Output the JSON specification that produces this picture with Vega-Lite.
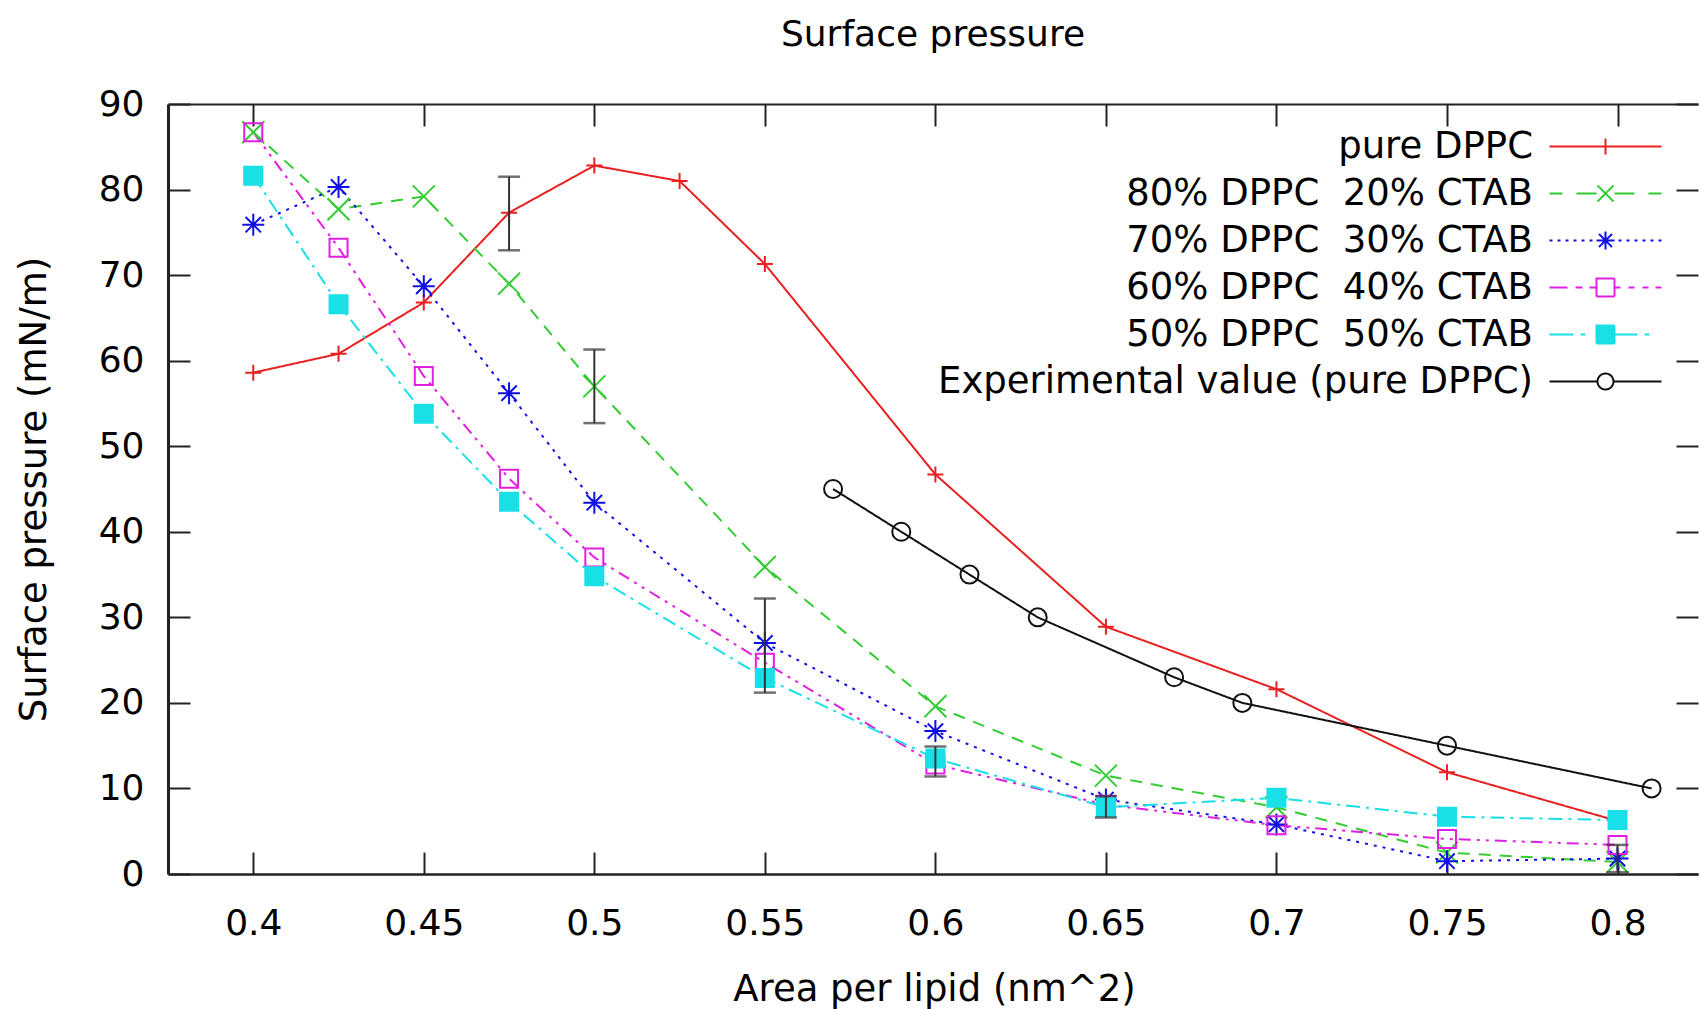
{
  "$schema": "https://vega.github.io/schema/vega-lite/v6.json",
  "width": 1530,
  "height": 770,
  "autosize": {"type": "none"},
  "padding": {"left": 168, "top": 104, "right": 1, "bottom": 135},
  "background": "white",
  "config": {
    "view": {"stroke": null},
    "font": "DejaVu Sans",
    "axis": {"grid": false, "labelFont": "DejaVu Sans", "titleFont": "DejaVu Sans", "labelColor": "black", "titleColor": "black", "domainColor": "#222", "tickColor": "#222", "labelFlush": false, "labelOverlap": false}
  },
  "title": {"text": "Surface pressure", "fontSize": 36, "fontWeight": "normal", "font": "DejaVu Sans", "color": "black", "anchor": "middle", "frame": "group", "baseline": "alphabetic", "offset": 4},
  "datasets": {
    "series": [
      {"s": "pure DPPC", "x": 0.4, "y": 58.6},
      {"s": "pure DPPC", "x": 0.425, "y": 60.8},
      {"s": "pure DPPC", "x": 0.45, "y": 66.8},
      {"s": "pure DPPC", "x": 0.475, "y": 77.3},
      {"s": "pure DPPC", "x": 0.5, "y": 82.8},
      {"s": "pure DPPC", "x": 0.525, "y": 81.0},
      {"s": "pure DPPC", "x": 0.55, "y": 71.3},
      {"s": "pure DPPC", "x": 0.6, "y": 46.7},
      {"s": "pure DPPC", "x": 0.65, "y": 28.9},
      {"s": "pure DPPC", "x": 0.7, "y": 21.6},
      {"s": "pure DPPC", "x": 0.75, "y": 11.9},
      {"s": "pure DPPC", "x": 0.8, "y": 6.2},
      {"s": "80% DPPC\u00a0 20% CTAB", "x": 0.4, "y": 86.7},
      {"s": "80% DPPC\u00a0 20% CTAB", "x": 0.425, "y": 77.7},
      {"s": "80% DPPC\u00a0 20% CTAB", "x": 0.45, "y": 79.2},
      {"s": "80% DPPC\u00a0 20% CTAB", "x": 0.475, "y": 69.0},
      {"s": "80% DPPC\u00a0 20% CTAB", "x": 0.5, "y": 57.0},
      {"s": "80% DPPC\u00a0 20% CTAB", "x": 0.55, "y": 35.9},
      {"s": "80% DPPC\u00a0 20% CTAB", "x": 0.6, "y": 19.6},
      {"s": "80% DPPC\u00a0 20% CTAB", "x": 0.65, "y": 11.5},
      {"s": "80% DPPC\u00a0 20% CTAB", "x": 0.7, "y": 7.8},
      {"s": "80% DPPC\u00a0 20% CTAB", "x": 0.75, "y": 2.5},
      {"s": "80% DPPC\u00a0 20% CTAB", "x": 0.8, "y": 1.4},
      {"s": "70% DPPC\u00a0 30% CTAB", "x": 0.4, "y": 75.9},
      {"s": "70% DPPC\u00a0 30% CTAB", "x": 0.425, "y": 80.3},
      {"s": "70% DPPC\u00a0 30% CTAB", "x": 0.45, "y": 68.7},
      {"s": "70% DPPC\u00a0 30% CTAB", "x": 0.475, "y": 56.2},
      {"s": "70% DPPC\u00a0 30% CTAB", "x": 0.5, "y": 43.4},
      {"s": "70% DPPC\u00a0 30% CTAB", "x": 0.55, "y": 27.0},
      {"s": "70% DPPC\u00a0 30% CTAB", "x": 0.6, "y": 16.7},
      {"s": "70% DPPC\u00a0 30% CTAB", "x": 0.65, "y": 8.7},
      {"s": "70% DPPC\u00a0 30% CTAB", "x": 0.7, "y": 5.8},
      {"s": "70% DPPC\u00a0 30% CTAB", "x": 0.75, "y": 1.5},
      {"s": "70% DPPC\u00a0 30% CTAB", "x": 0.8, "y": 1.8},
      {"s": "60% DPPC\u00a0 40% CTAB", "x": 0.4, "y": 86.7},
      {"s": "60% DPPC\u00a0 40% CTAB", "x": 0.425, "y": 73.2},
      {"s": "60% DPPC\u00a0 40% CTAB", "x": 0.45, "y": 58.2},
      {"s": "60% DPPC\u00a0 40% CTAB", "x": 0.475, "y": 46.2},
      {"s": "60% DPPC\u00a0 40% CTAB", "x": 0.5, "y": 37.0},
      {"s": "60% DPPC\u00a0 40% CTAB", "x": 0.55, "y": 24.7},
      {"s": "60% DPPC\u00a0 40% CTAB", "x": 0.6, "y": 12.8},
      {"s": "60% DPPC\u00a0 40% CTAB", "x": 0.65, "y": 8.1},
      {"s": "60% DPPC\u00a0 40% CTAB", "x": 0.7, "y": 5.7},
      {"s": "60% DPPC\u00a0 40% CTAB", "x": 0.75, "y": 4.1},
      {"s": "60% DPPC\u00a0 40% CTAB", "x": 0.8, "y": 3.4},
      {"s": "50% DPPC\u00a0 50% CTAB", "x": 0.4, "y": 81.6},
      {"s": "50% DPPC\u00a0 50% CTAB", "x": 0.425, "y": 66.6},
      {"s": "50% DPPC\u00a0 50% CTAB", "x": 0.45, "y": 53.8},
      {"s": "50% DPPC\u00a0 50% CTAB", "x": 0.475, "y": 43.5},
      {"s": "50% DPPC\u00a0 50% CTAB", "x": 0.5, "y": 34.8},
      {"s": "50% DPPC\u00a0 50% CTAB", "x": 0.55, "y": 22.9},
      {"s": "50% DPPC\u00a0 50% CTAB", "x": 0.6, "y": 13.5},
      {"s": "50% DPPC\u00a0 50% CTAB", "x": 0.65, "y": 7.8},
      {"s": "50% DPPC\u00a0 50% CTAB", "x": 0.7, "y": 8.9},
      {"s": "50% DPPC\u00a0 50% CTAB", "x": 0.75, "y": 6.7},
      {"s": "50% DPPC\u00a0 50% CTAB", "x": 0.8, "y": 6.3},
      {"s": "Experimental value (pure DPPC)", "x": 0.57, "y": 45},
      {"s": "Experimental value (pure DPPC)", "x": 0.59, "y": 40},
      {"s": "Experimental value (pure DPPC)", "x": 0.61, "y": 35},
      {"s": "Experimental value (pure DPPC)", "x": 0.63, "y": 30},
      {"s": "Experimental value (pure DPPC)", "x": 0.67, "y": 23},
      {"s": "Experimental value (pure DPPC)", "x": 0.69, "y": 20},
      {"s": "Experimental value (pure DPPC)", "x": 0.75, "y": 15},
      {"s": "Experimental value (pure DPPC)", "x": 0.81, "y": 10}
    ],
    "err": [
      {"x": 0.475, "lo": 72.9, "hi": 81.5},
      {"x": 0.5, "lo": 52.7, "hi": 61.3},
      {"x": 0.55, "lo": 21.2, "hi": 32.2},
      {"x": 0.6, "lo": 11.4, "hi": 14.9},
      {"x": 0.65, "lo": 6.6, "hi": 9.1},
      {"x": 0.8, "lo": 0.2, "hi": 3.4}
    ]
  },
  "layer": [
    {
      "data": {"name": "series"},
      "transform": [{"calculate": "datum.s", "as": "k"}],
      "mark": {"type": "line", "strokeWidth": 2},
      "encoding": {
        "x": {"field": "x", "type": "quantitative", "scale": {"domain": [0.375, 0.8236], "nice": false, "zero": false},
          "axis": {"orient": "bottom", "values": [0.4, 0.45, 0.5, 0.55, 0.6, 0.65, 0.7, 0.75, 0.8], "format": "~g", "tickSize": -22, "tickWidth": 2, "domainWidth": 2.5, "labelFontSize": 36, "labelBaseline": "alphabetic", "labelPadding": 82, "title": "Area per lipid (nm^2)", "titleFontSize": 37, "titleFontWeight": "normal", "titleX": 766, "titleY": 126, "titleBaseline": "alphabetic", "titleAlign": "center", "titleAnchor": null}},
        "y": {"field": "y", "type": "quantitative", "scale": {"domain": [0, 90], "nice": false},
          "axis": {"orient": "left", "values": [0, 10, 20, 30, 40, 50, 60, 70, 80, 90], "tickSize": -22, "tickWidth": 2, "domainWidth": 3, "labelFontSize": 36, "labelPadding": 46, "title": "Surface pressure (mN/m)", "titleFontSize": 37, "titleFontWeight": "normal", "titleX": -123, "titleY": 385, "titleAngle": -90, "titleBaseline": "alphabetic", "titleAlign": "center", "titleAnchor": null}},
        "color": {"field": "s", "type": "nominal", "sort": null,
          "scale": {"domain": ["pure DPPC", "80% DPPC\u00a0 20% CTAB", "70% DPPC\u00a0 30% CTAB", "60% DPPC\u00a0 40% CTAB", "50% DPPC\u00a0 50% CTAB", "Experimental value (pure DPPC)"], "range": ["#e82020", "#33cc33", "#1010e6", "#e020e0", "#18e0e6", "#111111"]},
          "legend": {
            "orient": "none", "legendX": 1419, "legendY": 24, "title": null, "padding": 0,
            "symbolSize": 100, "symbolStrokeWidth": 2, "labelFontSize": 37, "labelFont": "DejaVu Sans", "labelColor": "black",
            "labelAlign": "right", "labelOffset": -91, "labelLimit": 1000, "rowPadding": 9,
            "encode": {
              "symbols": {"update": {
              "shape": {"signal": "['M-11.2,0H11.2M0,-1.6V1.6', 'M-11.2,0H-8.6M-5.8,0H-1.8M1.8,0H5.8M8.6,0H11.2M-1.6,-1.6L1.6,1.6M-1.6,1.6L1.6,-1.6', 'M-11.2,0H-10.6M-9.6,0H-9M-8,0H-7.4M-6.4,0H-5.8M-4.8,0H-4.2M-3.2,0H-2.6M2.6,0H3.2M4.2,0H4.8M5.8,0H6.4M7.4,0H8M9,0H9.6M10.6,0H11.2M-1.8,0H1.8M0,-1.8V1.8M-1.3,-1.3L1.3,1.3M-1.3,1.3L1.3,-1.3', 'M-11.2,0H-7.6M-6,0H-4.6M-3.2,0H-1.8M-1.8,-1.8H1.8V1.8H-1.8ZM1.8,0H3M4.6,0H5.8M7.4,0H8.6M10,0H11.2', 'M-11.2,0H-6.4M-5,0H-4M-1.8,-1.8H1.8V1.8H-1.8ZM1.8,0H6.4M7.8,0H8.8', 'M-11.2,0H-1.6M1.6,0H11.2M-1.6,0A1.6,1.6,0,1,0,1.6,0A1.6,1.6,0,1,0,-1.6,0'][indexof(domain('color'), datum.value)]"},
              "size": {"value": 100},
              "fill": {"signal": "indexof(domain('color'), datum.value) == 4 ? '#18e0e6' : 'transparent'"},
              "stroke": {"signal": "scale('color', datum.value)"},
              "strokeDash": {"value": [1, 0]},
              "strokeWidth": {"value": 2},
              "opacity": {"value": 1}
            }}}
          }},
        "strokeDash": {"field": "k", "type": "nominal", "legend": null,
          "scale": {"domain": ["Experimental value (pure DPPC)", "50% DPPC\u00a0 50% CTAB", "60% DPPC\u00a0 40% CTAB", "70% DPPC\u00a0 30% CTAB", "80% DPPC\u00a0 20% CTAB", "pure DPPC"], "range": [[1, 0], [14, 6, 3, 6], [12, 6, 3, 6, 3, 6], [3, 6], [12, 9], [1, 0]]}}
      }
    },
    {
      "data": {"name": "series"},
      "transform": [{"calculate": "datum.s", "as": "k"}],
      "mark": {"type": "point", "filled": false, "strokeWidth": 2, "opacity": 1},
      "encoding": {
        "x": {"field": "x", "type": "quantitative", "scale": {"domain": [0.375, 0.8236], "nice": false, "zero": false}, "axis": null},
        "y": {"field": "y", "type": "quantitative", "scale": {"domain": [0, 90], "nice": false}, "axis": null},
        "color": {"field": "s", "type": "nominal", "sort": null},
        "shape": {"field": "k", "type": "nominal", "legend": null,
          "scale": {"domain": ["Experimental value (pure DPPC)", "50% DPPC\u00a0 50% CTAB", "60% DPPC\u00a0 40% CTAB", "70% DPPC\u00a0 30% CTAB", "80% DPPC\u00a0 20% CTAB", "pure DPPC"], "range": ["circle", "square", "square", "M-1,0H1M0,-1V1M-0.7,-0.7L0.7,0.7M-0.7,0.7L0.7,-0.7", "M-1,-1L1,1M-1,1L1,-1", "M-1,0H1M0,-1V1"]}},
        "size": {"field": "k", "type": "nominal", "legend": null,
          "scale": {"type": "ordinal", "domain": ["Experimental value (pure DPPC)", "50% DPPC\u00a0 50% CTAB", "60% DPPC\u00a0 40% CTAB", "70% DPPC\u00a0 30% CTAB", "80% DPPC\u00a0 20% CTAB", "pure DPPC"], "range": [324, 324, 324, 484, 484, 256]}},
        "fill": {"field": "k", "type": "nominal", "legend": null,
          "scale": {"domain": ["Experimental value (pure DPPC)", "50% DPPC\u00a0 50% CTAB", "60% DPPC\u00a0 40% CTAB", "70% DPPC\u00a0 30% CTAB", "80% DPPC\u00a0 20% CTAB", "pure DPPC"], "range": ["transparent", "#18e0e6", "transparent", "transparent", "transparent", "transparent"]}}
      }
    },
    {
      "data": {"name": "err"},
      "mark": {"type": "rule", "color": "#333333", "strokeWidth": 2},
      "encoding": {
        "x": {"field": "x", "type": "quantitative", "scale": {"domain": [0.375, 0.8236], "nice": false, "zero": false},
          "axis": {"orient": "top", "values": [0.4, 0.45, 0.5, 0.55, 0.6, 0.65, 0.7, 0.75, 0.8], "labels": false, "tickSize": -22, "tickWidth": 2, "domainWidth": 2, "title": null}},
        "y": {"field": "lo", "type": "quantitative", "scale": {"domain": [0, 90], "nice": false},
          "axis": {"orient": "right", "values": [0, 10, 20, 30, 40, 50, 60, 70, 80, 90], "labels": false, "domain": false, "tickSize": -22, "tickWidth": 2, "title": null}},
        "y2": {"field": "hi"}
      }
    },
    {
      "data": {"name": "err"},
      "mark": {"type": "tick", "orient": "horizontal", "color": "#333333", "size": 22, "thickness": 2.5},
      "encoding": {
        "x": {"field": "x", "type": "quantitative", "scale": {"domain": [0.375, 0.8236], "nice": false, "zero": false}, "axis": null},
        "y": {"field": "lo", "type": "quantitative", "scale": {"domain": [0, 90], "nice": false}, "axis": null}
      }
    },
    {
      "data": {"name": "err"},
      "mark": {"type": "tick", "orient": "horizontal", "color": "#333333", "size": 22, "thickness": 2.5},
      "encoding": {
        "x": {"field": "x", "type": "quantitative", "scale": {"domain": [0.375, 0.8236], "nice": false, "zero": false}, "axis": null},
        "y": {"field": "hi", "type": "quantitative", "scale": {"domain": [0, 90], "nice": false}, "axis": null}
      }
    }
  ],
  "resolve": {"axis": {"x": "independent", "y": "independent"}}
}
